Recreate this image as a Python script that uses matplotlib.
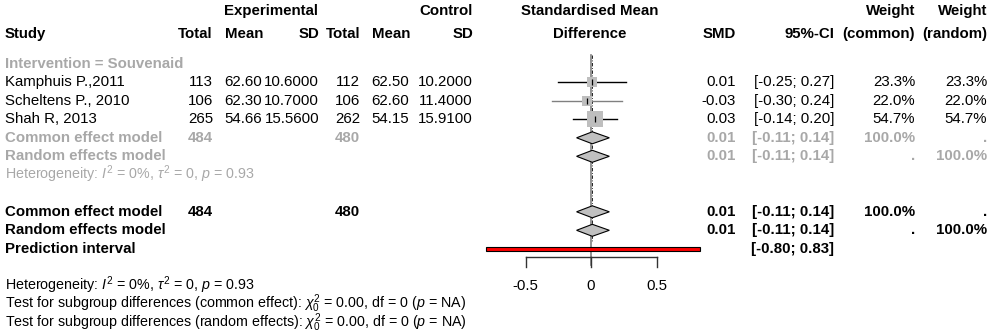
import numpy as np
import matplotlib
matplotlib.use("Agg")
import matplotlib.pyplot as plt
from matplotlib.patches import Polygon, Rectangle

plt.rcParams['font.family'] = ['Liberation Sans', 'DejaVu Sans']
plt.rcParams['mathtext.fontset'] = 'custom'
plt.rcParams['mathtext.rm'] = 'Liberation Sans'
plt.rcParams['mathtext.it'] = 'Liberation Sans:italic'
plt.rcParams['mathtext.bf'] = 'Liberation Sans:bold'

# study level data
studies = ["Kamphuis P.,2011", "Scheltens P., 2010", "Shah R, 2013"]
n_e = [113, 106, 265]
mean_e = [62.60, 62.30, 54.66]
sd_e = [10.6, 10.7, 15.56]
n_c = [112, 106, 262]
mean_c = [62.50, 62.60, 54.15]
sd_c = [10.2, 11.4, 15.91]
smd = [0.01, -0.03, 0.03]
ci_lo = [-0.25, -0.30, -0.14]
ci_hi = [0.27, 0.24, 0.20]
w_common = [23.3, 22.0, 54.7]
w_random = [23.3, 22.0, 54.7]
line_cols = ['black', 'gray', 'black']

# pooled estimates
pooled_est = 0.01
pooled_ci = (-0.11, 0.14)
pred_ci = (-0.80, 0.83)
n_e_total = sum(n_e)
n_c_total = sum(n_c)
i2, tau2, p_het = 0, 0, 0.93
xticks = [-0.5, 0, 0.5]

fs = 10.8
fs_note = 10.3
grey_txt = '#a8a8a8'

fig = plt.figure(figsize=(9.92, 3.35), dpi=100)
ylim = ((335 - 63.8) / 18.5, -63.8 / 18.5)

# text panel (x in pixel columns, y in rows)
tx = fig.add_axes([0, 0, 1, 1])
tx.set_xlim(0, 992)
tx.set_ylim(*ylim)
tx.axis('off')

# forest panel (x in SMD units)
px0, px1, zero_px, unit_px = 480, 710, 591, 131
fx = fig.add_axes([px0 / 992, 0, (px1 - px0) / 992, 1])
fx.set_xlim((px0 - zero_px) / unit_px, (px1 - zero_px) / unit_px)
fx.set_ylim(*ylim)
fx.axis('off')

base = 4 / 18.5  # offset from row centre to text baseline


def put(x, row, s, ha='right', bold=False, color='black', size=fs):
    tx.text(x, row + base, s, ha=ha, va='baseline', fontsize=size,
            fontweight='bold' if bold else 'normal', color=color)


# column headers
top = -2.84
put(318, top, "Experimental", bold=True)
put(473, top, "Control", bold=True)
put(590, top, "Standardised Mean", ha='center', bold=True)
put(915, top, "Weight", bold=True)
put(987, top, "Weight", bold=True)
hrow = -1.6
put(5, hrow, "Study", ha='left', bold=True)
for x, s in [(213, "Total"), (263, "Mean"), (319, "SD"), (360, "Total"),
             (410, "Mean"), (473, "SD"), (736, "SMD"), (834, "95%-CI"),
             (915, "(common)"), (987, "(random)")]:
    put(x, hrow, s, bold=True)
put(590, hrow, "Difference", ha='center', bold=True)

put(5, 0, "Intervention = Souvenaid", ha='left', bold=True, color=grey_txt)

for i, name in enumerate(studies):
    r = i + 1
    put(5, r, name, ha='left')
    put(213, r, f"{n_e[i]}")
    put(262, r, f"{mean_e[i]:.2f}")
    put(319, r, f"{sd_e[i]:.4f}")
    put(360, r, f"{n_c[i]}")
    put(409, r, f"{mean_c[i]:.2f}")
    put(473, r, f"{sd_c[i]:.4f}")
    put(736, r, f"{smd[i]:.2f}")
    put(834, r, f"[{ci_lo[i]:.2f}; {ci_hi[i]:.2f}]")
    put(915, r, f"{w_common[i]:.1f}%")
    put(987, r, f"{w_random[i]:.1f}%")

ci_txt = f"[{pooled_ci[0]:.2f}; {pooled_ci[1]:.2f}]"
summary_rows = [(4, grey_txt), (5, grey_txt), (8, 'black'), (9, 'black')]
for k, (r, col) in enumerate(summary_rows):
    common = k % 2 == 0
    put(5, r, "Common effect model" if common else "Random effects model",
        ha='left', bold=True, color=col)
    if common:
        put(213, r, f"{n_e_total}", bold=True, color=col)
        put(360, r, f"{n_c_total}", bold=True, color=col)
    put(736, r, f"{pooled_est:.2f}", bold=True, color=col)
    put(834, r, ci_txt, bold=True, color=col)
    put(915, r, f"{sum(w_common):.1f}%" if common else ".", bold=True, color=col)
    put(987, r, "." if common else f"{sum(w_random):.1f}%", bold=True, color=col)

put(5, 10, "Prediction interval", ha='left', bold=True)
put(834, 10, f"[{pred_ci[0]:.2f}; {pred_ci[1]:.2f}]", bold=True)

het = rf"Heterogeneity: $I^2$ = {i2}%, $\tau^2$ = {tau2}, $p$ = {p_het:.2f}"
put(5, 6, het, ha='left', color=grey_txt, size=fs_note)
put(5, 12, het, ha='left', size=fs_note)
put(5, 13, r"Test for subgroup differences (common effect): $\chi^2_0$ = 0.00, df = 0 ($p$ = NA)",
    ha='left', size=fs_note)
put(5, 14, r"Test for subgroup differences (random effects): $\chi^2_0$ = 0.00, df = 0 ($p$ = NA)",
    ha='left', size=fs_note)

# reference lines
fx.plot([0, 0], [-0.48, 10.9], color='#808080', lw=1.2, zorder=1)
fx.plot([pooled_est, pooled_est], [-0.48, 9.6], color='black', lw=0.6,
        ls=(0, (4, 2, 1, 2)), zorder=1)

# study estimates
for i in range(len(studies)):
    r = i + 1
    fx.plot([ci_lo[i], ci_hi[i]], [r, r], color=line_cols[i], lw=1.0, zorder=2)
    side_pt = 2.2 * np.sqrt(w_common[i]) * 0.72
    fx.scatter([smd[i]], [r], marker='s', s=side_pt ** 2, color='#bebebe',
               linewidths=0, zorder=3)
    fx.scatter([smd[i]], [r], marker='|', s=25, color='black',
               linewidths=0.9, zorder=4)

# pooled diamonds
hh = 6 / 18.5
for r in (4, 5, 8, 9):
    fx.add_patch(Polygon([[pooled_ci[0], r], [pooled_est, r - hh],
                          [pooled_ci[1], r], [pooled_est, r + hh]],
                         closed=True, facecolor='#c0c0c0', edgecolor='black',
                         lw=0.8, zorder=3))

# prediction interval bar
bh = 4 / 18.5
fx.add_patch(Rectangle((pred_ci[0], 10 - bh / 2), pred_ci[1] - pred_ci[0], bh,
                       facecolor='red', edgecolor='black', lw=0.8, zorder=3))

# x axis
ax_y = 10.46
tick_len = 10 / 18.5
fx.plot([xticks[0], xticks[-1]], [ax_y, ax_y], color='#333333', lw=1.0)
for t in xticks:
    fx.plot([t, t], [ax_y, ax_y + tick_len], color='#333333', lw=1.0)
    fx.text(t, 12 + base, f"{t:g}", ha='center', va='baseline', fontsize=fs)

fig.savefig('out.png', dpi=100)
